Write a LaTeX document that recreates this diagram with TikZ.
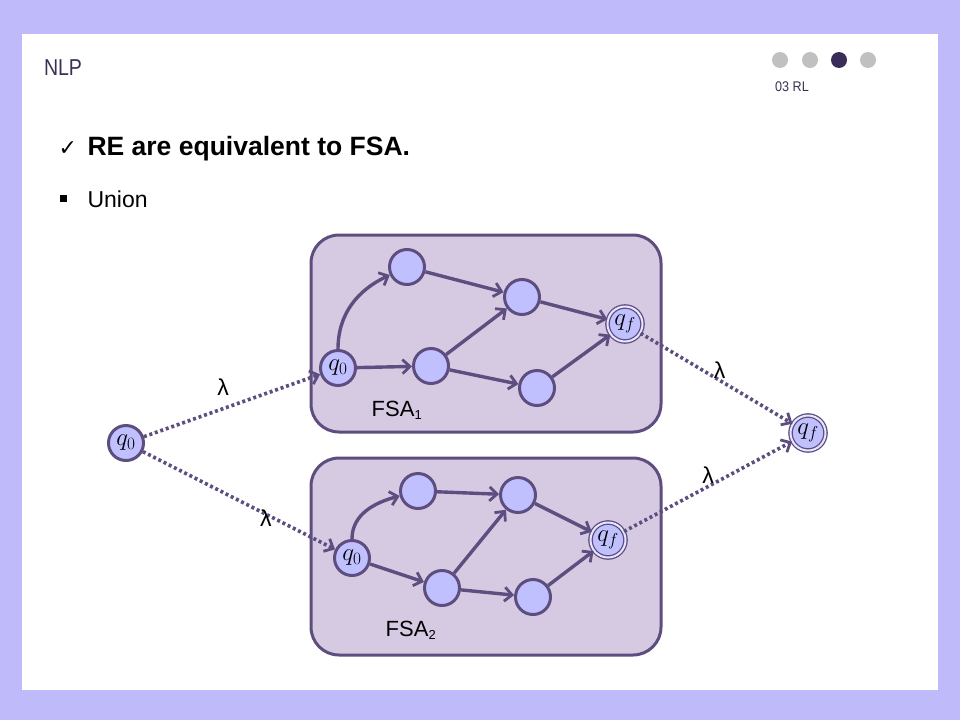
\documentclass[tikz,border=0pt]{standalone}
\usepackage[no-math]{fontspec}
\setmainfont{Liberation Sans}
\newfontfamily\symfont{DejaVu Sans}
\usetikzlibrary{arrows.meta}
\definecolor{bg}{HTML}{BFBBFB}
\definecolor{boxfill}{HTML}{D5CAE2}
\definecolor{edgecol}{HTML}{5E4E80}
\definecolor{nodefill}{HTML}{C0C0FF}
\definecolor{titlecol}{HTML}{3B3054}
\definecolor{dotgray}{HTML}{C0C0C0}
\definecolor{dotdark}{HTML}{3B2D5A}
\tikzset{
  st/.style={circle, draw=edgecol, line width=3pt, fill=nodefill, minimum size=35pt, inner sep=0pt, font=\fontsize{26}{26}\selectfont},
  fin/.style={circle, draw=edgecol, line width=1.3pt, double=nodefill!40!white, double distance=2pt, fill=nodefill, minimum size=35pt, inner sep=0pt, font=\fontsize{26}{26}\selectfont},
  fsabox/.style={draw=edgecol, line width=3pt, fill=boxfill, rounded corners=28pt},
  tr/.style={draw=edgecol, line width=3.4pt, -{Straight Barb[length=7.5pt,width=14pt,line width=2.8pt]}},
  eps/.style={draw=edgecol, line width=3.6pt, dash pattern=on 3pt off 2.8pt, -{Straight Barb[length=7.5pt,width=14pt,line width=2.8pt]}},
  lam/.style={font=\fontsize{23}{23}\selectfont, text=black},
  lbl/.style={font=\fontsize{22}{22}\selectfont, text=black},
}
\begin{document}
\begin{tikzpicture}[x=1pt,y=-1pt]
\useasboundingbox (0,0) rectangle (960,720);
\fill[bg] (0,0) rectangle (960,720);
\fill[white] (22,34) rectangle (938,690);
% header
\node[anchor=west, text=titlecol, font=\fontsize{23}{23}\selectfont, xscale=0.85] (title) at (41,68) {NLP};
\fill[dotgray] (780,60) circle (8);
\fill[dotgray] (810,60) circle (8);
\fill[dotdark] (839,60) circle (8);
\fill[dotgray] (868,60) circle (8);
\node[anchor=west, text=titlecol, font=\fontsize{14}{14}\selectfont, xscale=0.9] (sec) at (772,87) {03 RL};
% bullets
\node[anchor=west, font=\symfont\fontsize{22}{22}\selectfont] (chk) at (55,149) {✓};
\node[anchor=west, font=\fontsize{26.5}{26.5}\selectfont\bfseries] (head) at (84,149) {RE are equivalent to FSA.};
\fill[black] (60,195) rectangle (67,202);
\node[anchor=west, font=\fontsize{23}{23}\selectfont] (union) at (84,199) {Union};
% boxes
\path[fsabox] (311,235) rectangle (661,432);
\path[fsabox] (311,458) rectangle (661,655);
\node[lbl] (f1) at (397,410) {FSA\textsubscript{\fontsize{13}{13}\selectfont 1}};
\node[lbl] (f2) at (411,630) {FSA\textsubscript{\fontsize{13}{13}\selectfont 2}};
% FSA1 nodes
\node[st] (a0) at (338,368) {$q_0$};
\node[st] (a1) at (407,267) {};
\node[st] (a2) at (431,366) {};
\node[st] (a3) at (522,297) {};
\node[st] (a4) at (537,388) {};
\node[fin] (af) at (625,324) {$q_f$};
\draw[tr] (a0.north) to[out=90,in=205] (a1);
\draw[tr] (a0) -- (a2);
\draw[tr] (a1) -- (a3);
\draw[tr] (a2) -- (a3);
\draw[tr] (a2) -- (a4);
\draw[tr] (a3) -- (af);
\draw[tr] (a4) -- (af);
% FSA2 nodes
\node[st] (b0) at (352,558) {$q_0$};
\node[st] (b1) at (418,491) {};
\node[st] (b2) at (442,588) {};
\node[st] (b3) at (518,495) {};
\node[st] (b4) at (533,597) {};
\node[fin] (bf) at (608,540) {$q_f$};
\draw[tr] (b0.north) to[out=90,in=195] (b1);
\draw[tr] (b0) -- (b2);
\draw[tr] (b1) -- (b3);
\draw[tr] (b2) -- (b3);
\draw[tr] (b2) -- (b4);
\draw[tr] (b3) -- (bf);
\draw[tr] (b4) -- (bf);
% outer nodes
\node[st] (s) at (126,443) {$q_0$};
\node[fin] (t) at (808,433) {$q_f$};
\draw[eps] (s) -- node[lam, pos=0.45, above=8pt] {λ} (a0);
\draw[eps] (s) -- node[lam, pos=0.64, yshift=-4pt] {λ} (b0);
\draw[eps] (af) -- node[lam, pos=0.52, above=-3pt] {λ} (t);
\draw[eps] (bf) -- node[lam, pos=0.5, above=-2pt] {λ} (t);
\end{tikzpicture}
\end{document}
